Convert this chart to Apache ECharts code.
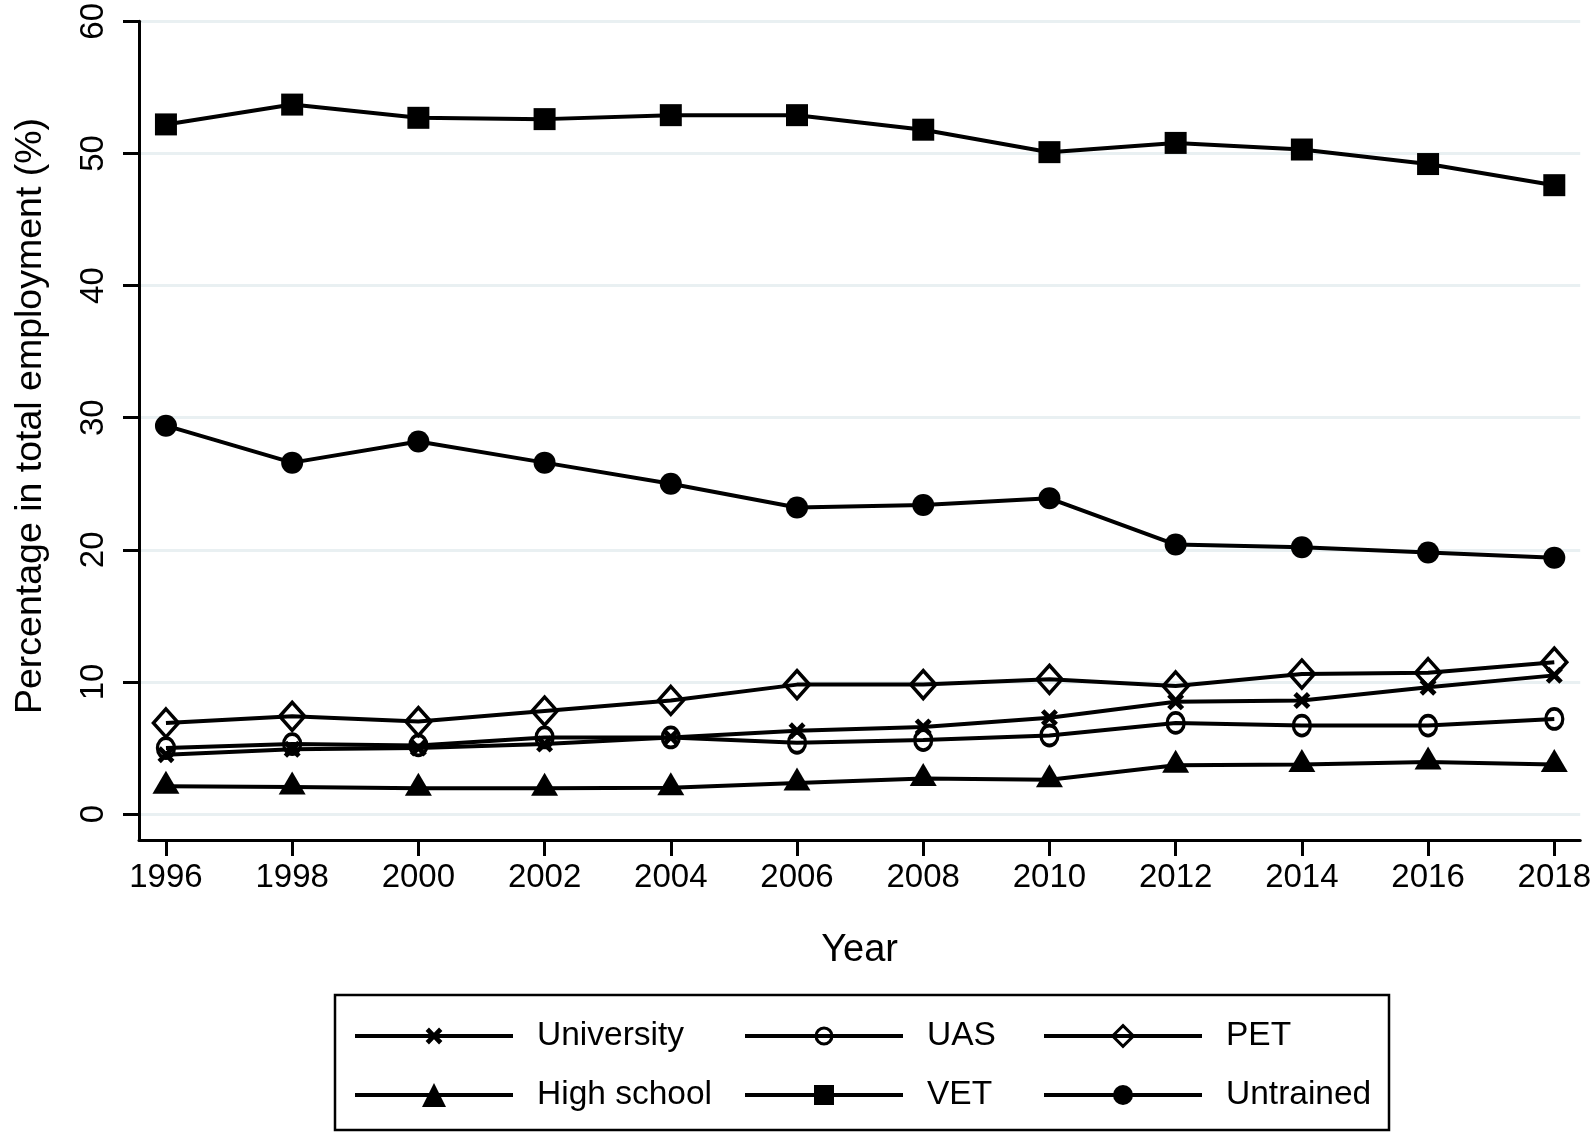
<!DOCTYPE html>
<html>
<head>
<meta charset="utf-8">
<script src="https://cdn.jsdelivr.net/npm/echarts@6/dist/echarts.min.js"></script>
<style>
html,body{margin:0;padding:0;background:#fff;}
#chart{width:1594px;height:1132px;}
</style>
</head>
<body>
<div id="chart"></div>
<script>
const years = [1996, 1998, 2000, 2002, 2004, 2006, 2008, 2010, 2012, 2014, 2016, 2018];
const yTicks = [0, 10, 20, 30, 40, 50, 60];
const university = [4.5, 4.9, 5.0, 5.3, 5.8, 6.3, 6.6, 7.3, 8.5, 8.6, 9.6, 10.5];
const uas = [5.0, 5.3, 5.2, 5.8, 5.8, 5.4, 5.6, 5.95, 6.9, 6.7, 6.7, 7.2];
const pet = [6.9, 7.4, 7.0, 7.8, 8.6, 9.8, 9.8, 10.2, 9.7, 10.6, 10.7, 11.5];
const highSchool = [2.1, 2.05, 1.95, 1.95, 2.0, 2.35, 2.7, 2.6, 3.7, 3.75, 3.95, 3.75];
const vet = [52.2, 53.7, 52.7, 52.6, 52.9, 52.9, 51.8, 50.1, 50.8, 50.3, 49.2, 47.6];
const untrained = [29.4, 26.6, 28.2, 26.6, 25.0, 23.2, 23.4, 23.9, 20.4, 20.2, 19.8, 19.4];
const seriesNames = ['University', 'UAS', 'PET', 'High school', 'VET', 'Untrained'];

const FONT = '"Liberation Sans", Arial, Helvetica, sans-serif';
const X_PATH = 'path://M2,0L5,3L8,0L10,2L7,5L10,8L8,10L5,7L2,10L0,8L3,5L0,2Z';

function pairs(vals) { return years.map((y, i) => [y, vals[i]]); }

function mkSeries(name, vals, symbol, size, hollow, offset) {
  return {
    name: name,
    type: 'line',
    data: pairs(vals),
    symbol: symbol,
    symbolSize: size,
    symbolOffset: offset || [0, 0],
    showAllSymbol: true,
    lineStyle: { color: '#000', width: 4 },
    itemStyle: hollow
      ? { color: 'rgba(0,0,0,0)', borderColor: '#000', borderWidth: 3.5 }
      : { color: '#000', borderWidth: 0 },
    emphasis: { disabled: true },
    z: 3
  };
}

const series = [
  mkSeries(seriesNames[0], university, X_PATH, 17, false),
  mkSeries(seriesNames[1], uas, 'circle', [17, 20], true),
  mkSeries(seriesNames[2], pet, 'diamond', [25, 28], true),
  mkSeries(seriesNames[3], highSchool, 'triangle', [27, 23], false, [0, -4]),
  mkSeries(seriesNames[4], vet, 'rect', 22, false),
  mkSeries(seriesNames[5], untrained, 'circle', 22, false)
];

const legendCols = [353, 743, 1042];
const legendRows = [1035, 1094];
const legendItemH = [21, 20, 26, 30, 25, 25];
const legendHollow = [false, true, true, false, false, false];
const legends = seriesNames.map((n, i) => {
  const col = i % 3, row = Math.floor(i / 3);
  const h = legendItemH[i];
  return {
    data: [n],
    left: legendCols[col],
    top: legendRows[row] - 16,
    orient: 'horizontal',
    padding: 0,
    itemWidth: 158,
    itemHeight: h,
    selectedMode: false,
    lineStyle: { color: '#000', width: 4 },
    itemStyle: legendHollow[i]
      ? { color: 'rgba(0,0,0,0)', borderColor: '#000', borderWidth: 3 }
      : { color: '#000', borderWidth: 0 },
    textStyle: { fontFamily: FONT, fontSize: 33.5, color: '#000', padding: [0, 0, 0, 19] }
  };
});

const chart = echarts.init(document.getElementById('chart'), null, { renderer: 'canvas' });
chart.setOption({
  animation: false,
  backgroundColor: '#fff',
  grid: { left: 139, right: 11, top: 17, bottom: 292, containLabel: false },
  xAxis: {
    type: 'value',
    min: 1995.573,
    max: 2018.411,
    name: 'Year',
    nameLocation: 'middle',
    nameGap: 92,
    nameTextStyle: { fontFamily: FONT, fontSize: 38, color: '#000' },
    axisLine: { show: true, onZero: false, lineStyle: { color: '#000', width: 3 } },
    axisTick: { show: true, length: 16, lineStyle: { color: '#000', width: 3 }, customValues: years },
    axisLabel: { customValues: years, fontFamily: FONT, fontSize: 33, color: '#000', margin: 21, formatter: v => String(v) },
    splitLine: { show: false }
  },
  yAxis: {
    type: 'value',
    min: -1.96,
    max: 60,
    axisLine: { show: true, onZero: false, lineStyle: { color: '#000', width: 3 } },
    axisTick: { show: true, length: 16, lineStyle: { color: '#000', width: 3 }, customValues: yTicks },
    axisLabel: { customValues: yTicks, rotate: 90, fontFamily: FONT, fontSize: 33, color: '#000', margin: 29, formatter: v => String(v) },
    splitLine: { show: true, lineStyle: { color: '#e9f0f2', width: 3 } }
  },
  legend: legends,
  series: series,
  graphic: [
    {
      type: 'text',
      x: 31, y: 416,
      rotation: Math.PI / 2,
      style: {
        text: 'Percentage in total employment (%)',
        font: '37.5px ' + FONT,
        fill: '#000',
        align: 'center',
        verticalAlign: 'middle'
      }
    },
    {
      type: 'rect',
      shape: { x: 335, y: 995, width: 1054, height: 135 },
      style: { fill: 'none', stroke: '#000', lineWidth: 2.5 },
      z: -1
    }
  ]
});
</script>
</body>
</html>
